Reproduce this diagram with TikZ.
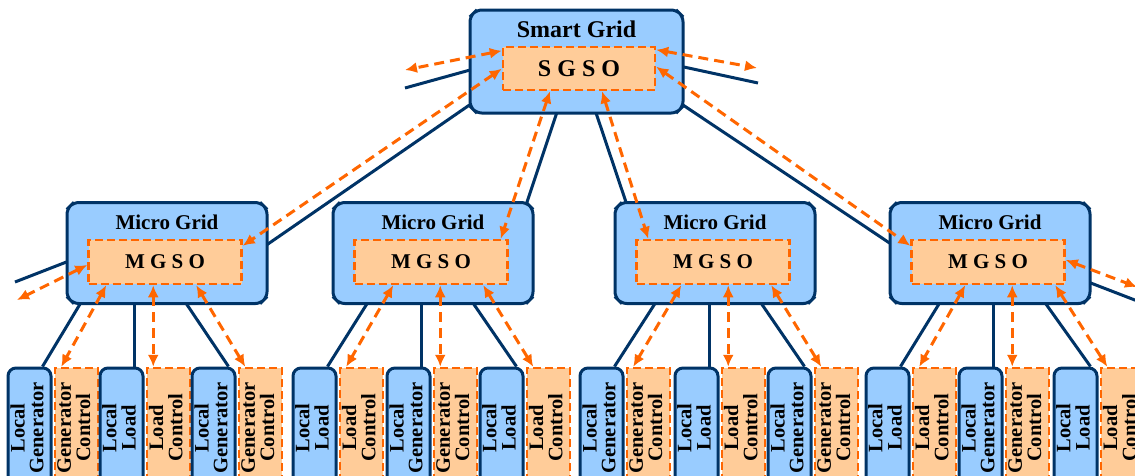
\documentclass[tikz,border=0pt]{standalone}
\usepackage{fontspec}
\setmainfont{Liberation Serif}
\usetikzlibrary{arrows.meta,positioning,backgrounds,calc,shapes.misc}

\definecolor{gridblue}{RGB}{153,204,255}
\definecolor{gridnavy}{RGB}{0,51,102}
\definecolor{sofill}{RGB}{255,204,153}
\definecolor{soline}{RGB}{255,102,0}

\newcommand{\vtext}[1]{\rotatebox{90}{\begin{tabular}{@{}c@{}}#1\end{tabular}}}

\begin{document}
\begin{tikzpicture}[x=1pt,y=-1pt,>={Latex[length=12pt,width=11pt]},
    gridbox/.style={chamfered rectangle,chamfered rectangle xsep=13pt,chamfered rectangle ysep=13pt,
      rounded corners=5pt,draw=gridnavy,fill=gridblue,line width=3pt},
    sobox/.style={draw=soline,fill=sofill,line width=2.5pt,dash pattern=on 8pt off 4pt,
      font=\fontsize{21}{24}\selectfont\bfseries},
    unitbox/.style={draw=gridnavy,fill=gridblue,line width=3pt,rounded corners=8pt,
      minimum width=43pt,minimum height=120pt,inner sep=1pt,font=\fontsize{20.5}{17}\selectfont\bfseries},
    ctrlbox/.style={sobox,minimum width=43pt,minimum height=120pt,inner sep=1pt,
      font=\fontsize{20.5}{17}\selectfont\bfseries},
    head/.style={font=\fontsize{21}{24}\selectfont\bfseries},
    link/.style={draw=gridnavy,line width=3pt},
    msg/.style={draw=soline,line width=3pt,dash pattern=on 10pt off 6pt,<->}]
  \useasboundingbox (0,0) rectangle (1135,475);

  % smart grid
  \node[gridbox,minimum width=213pt,minimum height=103pt] (sg) at (576.5,61.5) {};
  \node[head,font=\fontsize{24}{28}\selectfont\bfseries] (sgt) at ([yshift=-21pt]sg.north) {Smart Grid};
  \node[sobox,minimum width=152pt,minimum height=43pt,font=\fontsize{24}{28}\selectfont\bfseries]
    (sgso) at (579,68.5) {S G S O};

  % micro grids
  \foreach \m/\x in {1/167,2/433,3/715,4/990} {
    \node[gridbox,minimum width=200pt,minimum height=101pt] (mg\m) at (\x,253) {};
    \node[head] (mgt\m) at ([yshift=-21.5pt]mg\m.north) {Micro Grid};
    \node[sobox,minimum width=153pt,minimum height=44pt] (mgso\m) at (\x-2,262) {M G S O};
  }

  % local units and their controls
  \foreach \n/\x/\what in {1/8/Generator,2/100/Load,3/192/Generator,4/293/Load,
      5/387/Generator,6/480/Load,7/580/Generator,8/675/Load,9/768/Generator,
      10/866/Load,11/959/Generator,12/1054/Load} {
    \node[unitbox] (b\n) at (\x+21.5,428) {\vtext{Local\\\what}};
    \node[ctrlbox,right=1pt of b\n] (o\n) {\vtext{\what\\Control}};
  }

  \coordinate (sgL) at (405,88);
  \coordinate (sgR) at (758,83);
  \coordinate (mgL) at (15,282);
  \coordinate (mgR) at (1140,302);
  \coordinate (sgLa) at (405,70);
  \coordinate (sgRa) at (757,68);
  \coordinate (mgLa) at (17,300);
  \coordinate (mgRa) at (1137,287);

  % power lines
  \begin{scope}[on background layer]
    \draw[link] ([shift={(-79.5pt,-24.5pt)}]sg.center) -- ([shift={(85pt,-2pt)}]mg1.center);
    \draw[link] ([shift={(-13.5pt,-32.5pt)}]sg.center) -- ([shift={(87pt,30pt)}]mg2.center);
    \draw[link] ([shift={(13.5pt,-33.5pt)}]sg.center) -- ([shift={(-82pt,30pt)}]mg3.center);
    \draw[link] ([shift={(88.5pt,-31.5pt)}]sg.center) -- ([shift={(-84pt,-1pt)}]mg4.center);
    \draw[link] (sgL) -- ([shift={(-86.5pt,-3pt)}]sg.center);
    \draw[link] ([shift={(86.5pt,-1pt)}]sg.center) -- (sgR);
    \draw[link] (mgL) -- ([shift={(-80pt,-1pt)}]mg1.center);
    \draw[link] ([shift={(80pt,-22pt)}]mg4.center) -- (mgR);
    \foreach \m/\j in {1/2,2/5,3/8,4/11} {
      \pgfmathtruncatemacro\lft{\j-1}
      \pgfmathtruncatemacro\rgt{\j+1}
      \draw[link] ($(b\j.north |- mg\m.south)+(-36pt,10pt)$) -- ([xshift=13pt]b\lft.north);
      \draw[link] ($(b\j.north |- mg\m.south)+(13pt,10pt)$) -- ([xshift=13pt]b\j.north);
      \draw[link] ($(b\j.north |- mg\m.south)+(59pt,10pt)$) -- ([xshift=15pt]b\rgt.north);
    }
  \end{scope}

  % control messages
  \draw[msg] ([yshift=-5pt]sgso.north west) -- (sgLa);
  \draw[msg] ([yshift=-4pt]sgso.north east) -- (sgRa);
  \draw[msg] ([yshift=-23pt]sgso.north west) -- ([yshift=-7pt]mgso1.north east);
  \draw[msg] ([xshift=-29pt]sgso.south) -- ([xshift=-8pt]mgso2.north east);
  \draw[msg] ([xshift=23pt]sgso.south) -- ([xshift=13pt]mgso3.north west);
  \draw[msg] ([yshift=-21pt]sgso.north east) -- ([yshift=-7pt]mgso4.north west);
  \draw[msg] ([yshift=-3pt]mgso1.west) -- (mgLa);
  \draw[msg] ([yshift=2pt]mgso4.east) -- (mgRa);
  \foreach \m/\j in {1/2,2/5,3/8,4/11} {
    \pgfmathtruncatemacro\lft{\j-1}
    \pgfmathtruncatemacro\rgt{\j+1}
    \draw[msg] ($(o\j.north |- mgso\m.south)+(-62pt,0)$) -- ([xshift=-15pt]o\lft.north);
    \draw[msg] ($(o\j.north |- mgso\m.south)+(-15pt,0)$) -- ([xshift=-15pt]o\j.north);
    \draw[msg] ($(o\j.north |- mgso\m.south)+(28pt,0)$) -- ([xshift=-15pt]o\rgt.north);
  }
\end{tikzpicture}
\end{document}
